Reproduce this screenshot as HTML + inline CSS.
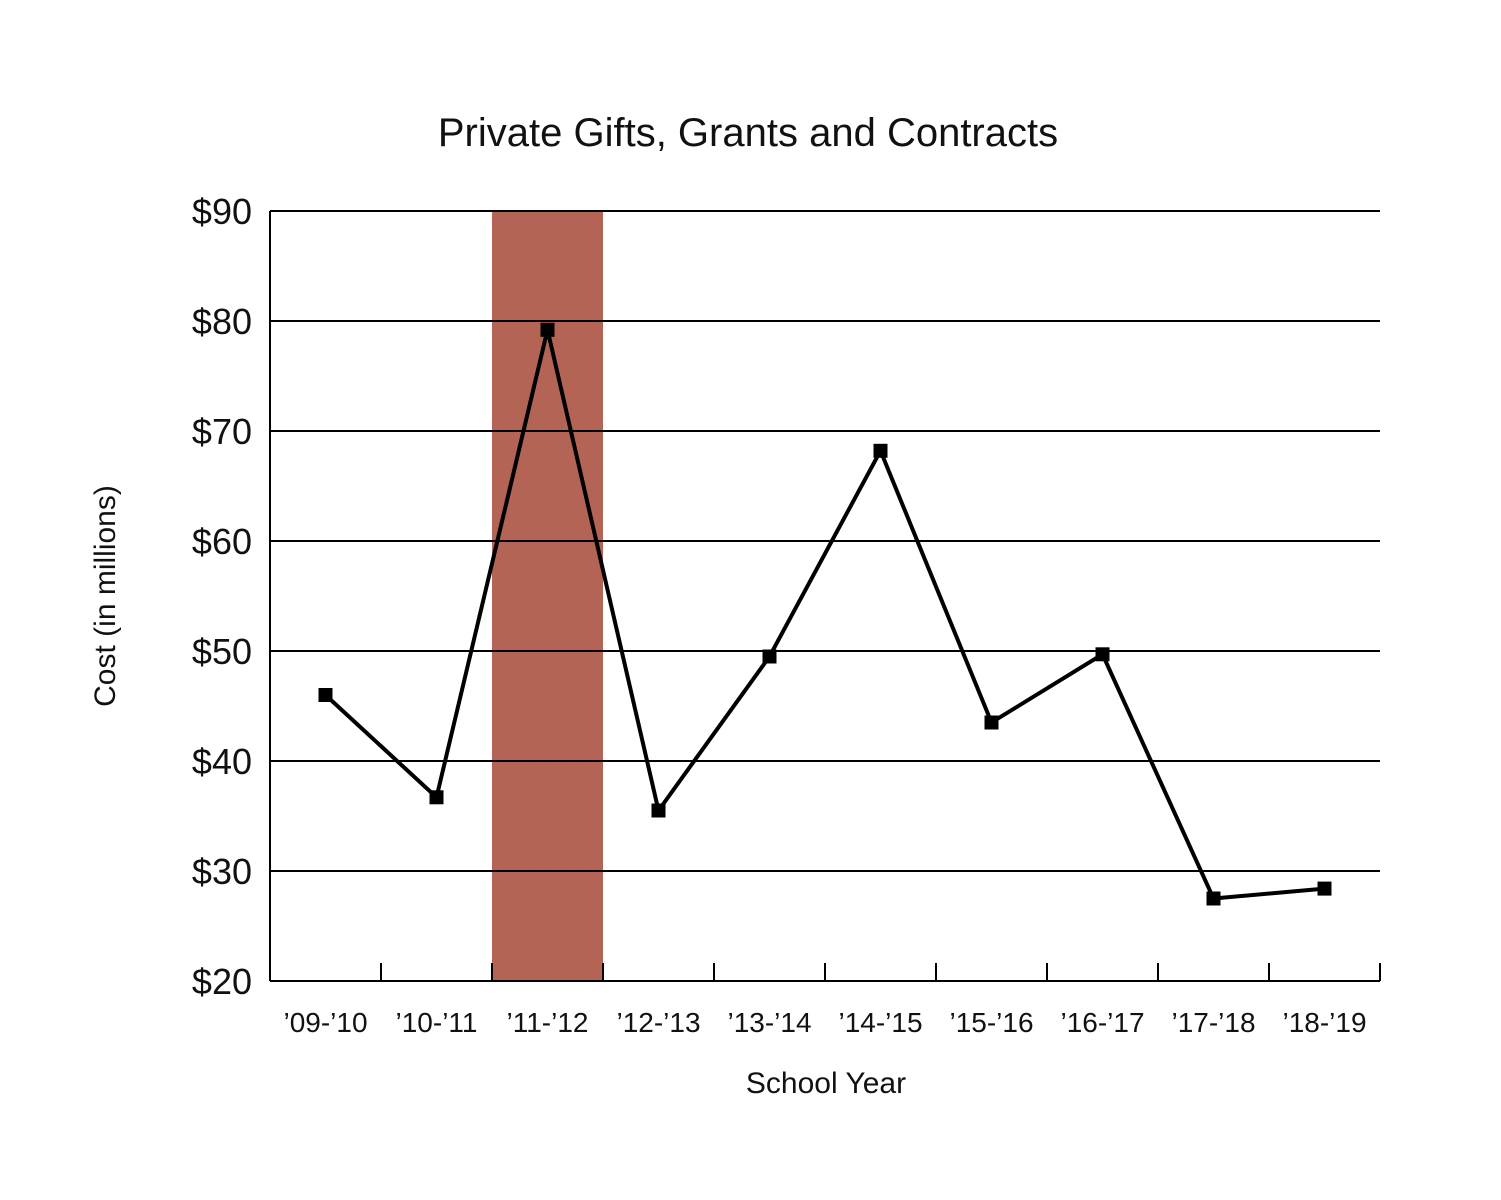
<!DOCTYPE html>
<html><head><meta charset="utf-8"><style>
html,body{margin:0;padding:0;background:#fff;}
svg{display:block;font-family:"Liberation Sans",sans-serif;}
</style></head><body>
<svg id="chart" width="1501" height="1200" viewBox="0 0 1501 1200" xmlns="http://www.w3.org/2000/svg">
<text x="748" y="146" font-size="40" text-anchor="middle" fill="#111">Private Gifts, Grants and Contracts</text>
<text transform="translate(115,596) rotate(-90)" font-size="30" text-anchor="middle" fill="#111">Cost (in millions)</text>
<text x="826" y="1093" font-size="30" text-anchor="middle" fill="#111">School Year</text>
<g id="band"></g><g id="grid"></g><g id="axes"></g><g id="series"></g><g id="labels"></g>
</svg>
<script>
const categories = ["'09-'10","'10-'11","'11-'12","'12-'13","'13-'14","'14-'15","'15-'16","'16-'17","'17-'18","'18-'19"];
const values = [46.0,36.7,79.2,35.5,49.5,68.2,43.5,49.7,27.5,28.4];
const yTicks = [20,30,40,50,60,70,80,90];
const yTickLabels = ["$20","$30","$40","$50","$60","$70","$80","$90"];
const highlightCategory = 2;

const NS="http://www.w3.org/2000/svg";
const L=270,R=1380,T=211,B=981,yMin=20,yMax=90;
const bw=(R-L)/categories.length;
const xs=i=>L+bw*(i+0.5);
const ys=v=>B-(v-yMin)/(yMax-yMin)*(B-T);
function mk(tag,attrs,parent,text){const e=document.createElementNS(NS,tag);for(const k in attrs)e.setAttribute(k,attrs[k]);if(text!==undefined)e.textContent=text;document.getElementById(parent).appendChild(e);return e;}

const band=mk('rect',{x:L+bw*highlightCategory,y:T,width:bw,height:B-T,fill:'#b36455'},'band');



yTicks.forEach((t,i)=>{
  if(t>yMin){const g=mk('line',{x1:L,x2:R,y1:ys(t),y2:ys(t),stroke:'#000','stroke-width':2},'grid');
  
  }
  const tl=mk('text',{x:252,y:ys(t)+13,'font-size':36,'text-anchor':'end',fill:'#111'},'labels',yTickLabels[i]);
  
  
});
const xa=mk('line',{x1:L,x2:R,y1:B,y2:B,stroke:'#000','stroke-width':2},'axes');


const ya=mk('line',{x1:L,x2:L,y1:T,y2:B,stroke:'#000','stroke-width':2},'axes');


for(let i=1;i<=categories.length;i++){
  const tk=mk('line',{x1:L+bw*i,x2:L+bw*i,y1:B-18,y2:B,stroke:'#000','stroke-width':2},'axes');
  
  
}
categories.forEach((c,i)=>{
  const tl=mk('text',{x:xs(i),y:1032,'font-size':28,'text-anchor':'middle',fill:'#111'},'labels',c.replace(/'/g,'\u2019'));
  
  
});
const pl=mk('polyline',{points:values.map((v,i)=>xs(i)+','+ys(v)).join(' '),fill:'none',stroke:'#000','stroke-width':4,'stroke-linejoin':'miter'},'series');


values.forEach((v,i)=>{
  const p=mk('rect',{x:xs(i)-7,y:ys(v)-7,width:14,height:14,fill:'#000'},'series');
  
  
});
</script>
</body></html>
